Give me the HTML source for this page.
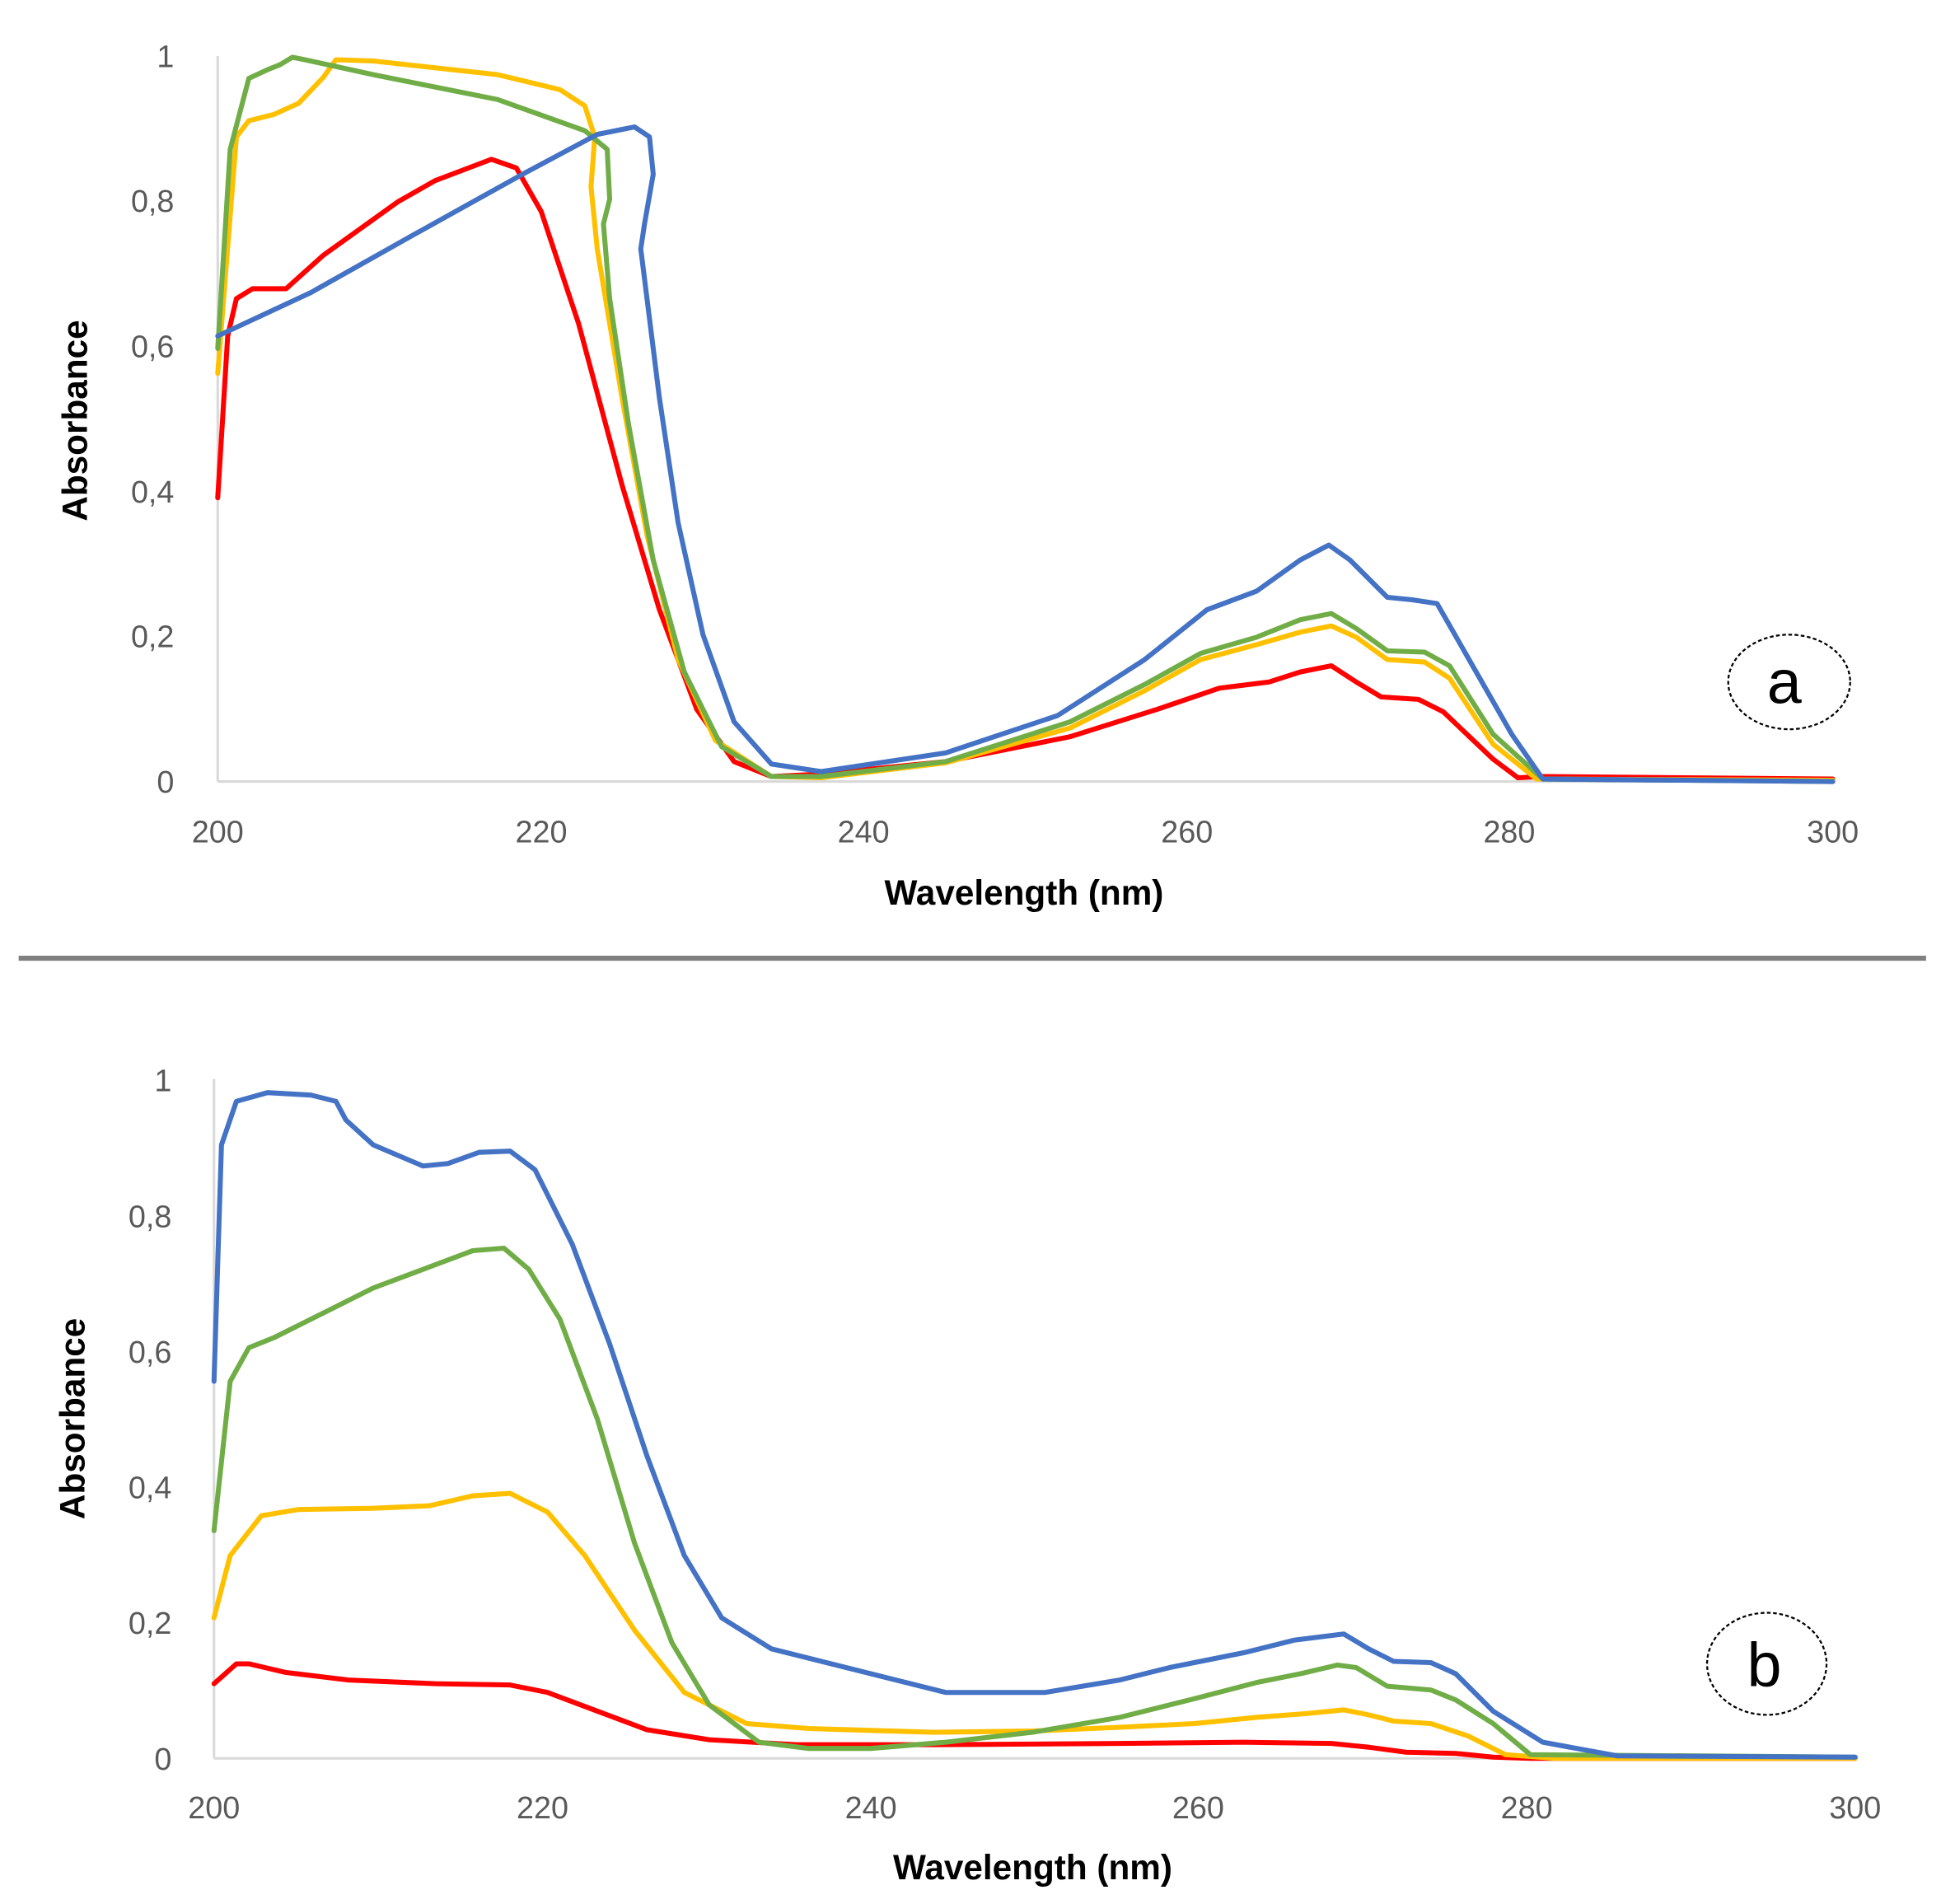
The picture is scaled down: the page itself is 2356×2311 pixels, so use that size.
<!DOCTYPE html>
<html><head><style>html,body{margin:0;padding:0;background:#fff}svg{display:block}</style></head>
<body>
<svg width="2356" height="2311" viewBox="0 0 1560 1530" preserveAspectRatio="none" xmlns="http://www.w3.org/2000/svg">
<rect width="1560" height="1530" fill="#fff"/>
<g font-family="Liberation Sans, sans-serif" fill="#595959" font-size="25">
<!-- chart a -->
<line x1="175" y1="45" x2="175" y2="628" stroke="#d9d9d9" stroke-width="2"/>
<line x1="175" y1="628" x2="1473" y2="628" stroke="#d9d9d9" stroke-width="2"/>
<g text-anchor="end">
<text x="140" y="637">0</text><text x="140" y="520">0,2</text><text x="140" y="404">0,4</text>
<text x="140" y="287">0,6</text><text x="140" y="170">0,8</text><text x="140" y="54">1</text>
</g>
<g text-anchor="middle">
<text x="175" y="677">200</text><text x="435" y="677">220</text><text x="694" y="677">240</text>
<text x="954" y="677">260</text><text x="1213" y="677">280</text><text x="1473" y="677">300</text>
<text x="823" y="727" font-weight="bold" font-size="28" fill="#000">Wavelength (nm)</text>
<text transform="translate(70,338) rotate(-90)" font-weight="bold" font-size="28" fill="#000">Absorbance</text>
</g>
<!-- chart b -->
<line x1="172" y1="867" x2="172" y2="1413" stroke="#d9d9d9" stroke-width="2"/>
<line x1="172" y1="1413" x2="1491" y2="1413" stroke="#d9d9d9" stroke-width="2"/>
<g text-anchor="end">
<text x="138" y="1422">0</text><text x="138" y="1313">0,2</text><text x="138" y="1204">0,4</text>
<text x="138" y="1095">0,6</text><text x="138" y="986">0,8</text><text x="138" y="877">1</text>
</g>
<g text-anchor="middle">
<text x="172" y="1461">200</text><text x="436" y="1461">220</text><text x="700" y="1461">240</text>
<text x="963" y="1461">260</text><text x="1227" y="1461">280</text><text x="1491" y="1461">300</text>
<text x="830" y="1510" font-weight="bold" font-size="28" fill="#000">Wavelength (nm)</text>
<text transform="translate(68,1140) rotate(-90)" font-weight="bold" font-size="28" fill="#000">Absorbance</text>
</g>
</g>
<line x1="15" y1="770" x2="1548" y2="770" stroke="#808080" stroke-width="4"/>
<g fill="none" stroke-width="4" stroke-linejoin="round" stroke-linecap="round">
<polyline stroke="#FF0000" points="175,400 183,270 190,240 203,232 230,232 260,205 320,162 350,145 395,128 415,135 435,170 465,260 500,390 530,490 560,570 590,612 620,624 660,622 760,612 860,592 930,570 980,553 1020,548 1045,540 1070,535 1090,548 1110,560 1140,562 1160,572 1200,610 1220,625 1240,624 1473,626"/>
<polyline stroke="#FFC000" points="175,300 190,110 200,97 220,92 240,83 260,62 270,48 300,49 400,60 450,72 470,85 478,110 475,150 480,200 500,320 520,430 545,530 575,595 620,624 660,625 760,613 860,585 920,555 965,530 1010,518 1045,508 1070,503 1090,512 1115,530 1145,532 1165,545 1200,598 1235,626 1473,627"/>
<polyline stroke="#70AD47" points="175,280 185,120 200,63 215,56 225,52 235,46 245,48 300,60 400,80 470,105 488,120 490,160 485,180 490,240 505,340 525,450 550,540 580,600 620,624 660,624 760,612 860,580 920,550 965,525 1010,512 1045,498 1070,493 1090,505 1115,523 1145,524 1165,535 1200,590 1240,626 1473,628"/>
<polyline stroke="#4472C4" points="175,270 250,235 330,190 420,140 480,108 510,102 522,110 525,140 518,180 515,200 520,240 530,320 545,420 565,510 590,580 620,614 660,620 760,605 850,575 920,530 970,490 1010,475 1045,450 1068,438 1085,450 1115,480 1135,482 1155,485 1175,520 1215,590 1240,626 1473,628"/>

<polyline stroke="#FF0000" points="172,1353 190,1337 200,1337 230,1344 280,1350 350,1353 410,1354 440,1360 480,1375 520,1390 570,1398 640,1402 750,1402 900,1401 1000,1400 1070,1401 1100,1404 1130,1408 1170,1409 1200,1412 1230,1413 1491,1413"/>
<polyline stroke="#FFC000" points="172,1300 185,1250 210,1218 240,1213 300,1212 345,1210 380,1202 410,1200 440,1215 470,1250 510,1310 550,1360 600,1385 650,1389 750,1392 830,1391 900,1388 960,1385 1010,1380 1050,1377 1080,1374 1100,1378 1120,1383 1150,1385 1180,1395 1210,1410 1250,1413 1491,1413"/>
<polyline stroke="#70AD47" points="172,1230 185,1110 200,1083 220,1075 260,1055 300,1035 340,1020 380,1005 405,1003 425,1020 450,1060 480,1140 510,1240 540,1320 570,1370 610,1400 650,1405 700,1405 760,1400 830,1392 900,1380 960,1365 1010,1352 1045,1345 1075,1338 1090,1340 1115,1355 1150,1358 1170,1366 1200,1385 1230,1410 1491,1412"/>
<polyline stroke="#4472C4" points="172,1110 178,920 190,885 215,878 250,880 270,885 278,900 300,920 340,937 360,935 385,926 410,925 430,940 460,1000 490,1080 520,1170 550,1250 580,1300 620,1325 700,1345 760,1360 840,1360 900,1350 940,1340 1000,1328 1040,1318 1080,1313 1100,1325 1120,1335 1150,1336 1170,1345 1200,1375 1240,1400 1300,1411 1491,1412"/>
</g>
<ellipse cx="1438" cy="548" rx="49" ry="38" fill="none" stroke="#000" stroke-width="1.5" stroke-dasharray="3,2"/>
<text x="1434" y="565" font-family="Liberation Sans, sans-serif" font-size="50" text-anchor="middle">a</text>
<ellipse cx="1420" cy="1337" rx="48" ry="41" fill="none" stroke="#000" stroke-width="1.5" stroke-dasharray="3,2"/>
<text x="1418" y="1355" font-family="Liberation Sans, sans-serif" font-size="50" text-anchor="middle">b</text>
</svg>
</body></html>
